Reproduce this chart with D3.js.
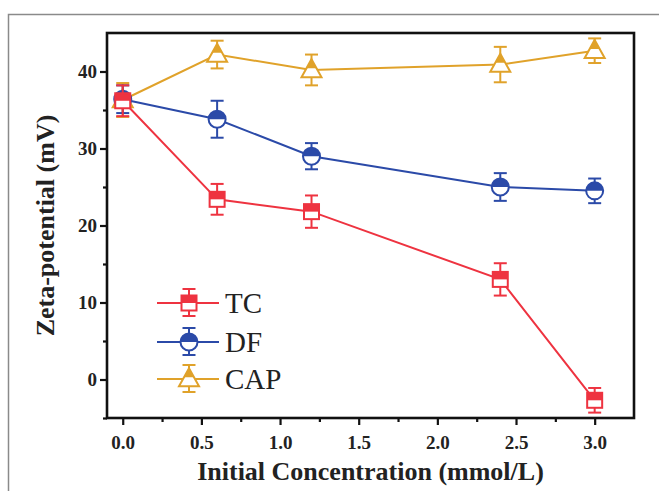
<!DOCTYPE html>
<html>
<head>
<meta charset="utf-8">
<script src="https://cdn.jsdelivr.net/npm/d3@7"></script>
<style>
  body { margin: 0; background: #fff; }
  text { font-family: "Liberation Serif", "Times New Roman", serif; }
</style>
</head>
<body>
<svg id="chart" width="659" height="491"></svg>
<script>
// data
var concentrations = [0, 0.6, 1.2, 2.4, 3.0]
var tcValues  = [36.2, 23.4, 21.8, 13.0, -2.7]
var tcErrors  = [2.0, 2.0, 2.1, 2.1, 1.6]
var dfValues  = [36.4, 33.8, 29.0, 25.0, 24.5]
var dfErrors  = [1.8, 2.4, 1.7, 1.8, 1.6]
var capValues = [36.3, 42.2, 40.2, 40.9, 42.7]
var capErrors = [2.2, 1.8, 2.0, 2.3, 1.6]
var seriesNames = ['TC', 'DF', 'CAP']
var xTicks = [0, 0.5, 1.0, 1.5, 2.0, 2.5, 3.0]
var yTicks = [0, 10, 20, 30, 40]

var colors = { TC: '#ee3340', DF: '#2b4aa8', CAP: '#e0a22a' }
var shapes = { TC: 'square', DF: 'circle', CAP: 'triangle' }
var serif = '"Liberation Serif", "Times New Roman", serif'

var svg = d3.select('#chart')

// outer grey frame of the figure
svg.append('rect')
  .attr('x', 8.5).attr('y', 14.5)
  .attr('width', 700).attr('height', 520)
  .attr('fill', 'none').attr('stroke', '#8a8a8a').attr('stroke-width', 1.5)

var plot = { left: 107, right: 634, top: 33, bottom: 418 }

var x = d3.scaleLinear().domain([-0.1, 3.25]).range([plot.left, plot.right])
var y = d3.scaleLinear().domain([-5, 45]).range([plot.bottom, plot.top])

// axes
var xAxis = d3.axisBottom(x).tickValues(xTicks).tickSize(7).tickFormat(d3.format('.1f'))
var xMinor = d3.axisBottom(x).tickValues([0.25, 0.75, 1.25, 1.75, 2.25, 2.75]).tickSize(4).tickFormat('')
var yAxis = d3.axisLeft(y).tickValues(yTicks).tickSize(7).tickFormat(d3.format('d'))
var yMinor = d3.axisLeft(y).tickValues([-5, 5, 15, 25, 35]).tickSize(4).tickFormat('')

function styleAxis (g) {
  g.select('.domain').remove()
  g.selectAll('line').attr('stroke', '#111').attr('stroke-width', 2.2)
  g.selectAll('text')
    .attr('font-family', serif)
    .attr('font-weight', 'bold')
    .attr('font-size', 19)
    .attr('fill', '#222')
}

svg.append('g').attr('transform', 'translate(0,' + plot.bottom + ')').call(xAxis).call(styleAxis)
  .selectAll('text').attr('dy', '1.1em')
svg.append('g').attr('transform', 'translate(0,' + plot.bottom + ')').call(xMinor).call(styleAxis)
svg.append('g').attr('transform', 'translate(' + plot.left + ',0)').call(yAxis).call(styleAxis)
svg.append('g').attr('transform', 'translate(' + plot.left + ',0)').call(yMinor).call(styleAxis)

// box
svg.append('rect')
  .attr('x', plot.left).attr('y', plot.top)
  .attr('width', plot.right - plot.left).attr('height', plot.bottom - plot.top)
  .attr('fill', 'none').attr('stroke', '#111').attr('stroke-width', 2.6)

// axis titles
svg.append('text')
  .attr('x', (plot.left + plot.right) / 2).attr('y', 480)
  .attr('text-anchor', 'middle')
  .attr('font-family', serif)
  .attr('font-weight', 'bold').attr('font-size', 26).attr('fill', '#222')
  .text('Initial Concentration (mmol/L)')

svg.append('text')
  .attr('transform', 'translate(54,' + ((plot.top + plot.bottom) / 2) + ') rotate(-90)')
  .attr('text-anchor', 'middle')
  .attr('font-family', serif)
  .attr('font-weight', 'bold').attr('font-size', 26).attr('fill', '#222')
  .text('Zeta-potential (mV)')

// half-filled marker drawn at (cx, cy)
function drawMarker (g, shape, color, cx, cy) {
  var m = g.append('g').attr('transform', 'translate(' + cx + ',' + cy + ')')
  if (shape === 'square') {
    var s = 7.5
    m.append('rect').attr('x', -s).attr('y', -s).attr('width', 2 * s).attr('height', 2 * s)
      .attr('fill', '#fff')
    m.append('rect').attr('x', -s).attr('y', -s).attr('width', 2 * s).attr('height', s)
      .attr('fill', color)
    m.append('rect').attr('x', -s).attr('y', -s).attr('width', 2 * s).attr('height', 2 * s)
      .attr('fill', 'none').attr('stroke', color).attr('stroke-width', 2)
  } else if (shape === 'circle') {
    var r = 8.5
    m.append('circle').attr('r', r).attr('fill', '#fff')
    m.append('path').attr('d', 'M' + (-r) + ',0 A' + r + ',' + r + ' 0 0 1 ' + r + ',0 Z')
      .attr('fill', color)
    m.append('circle').attr('r', r).attr('fill', 'none')
      .attr('stroke', color).attr('stroke-width', 2)
  } else {
    var h = 18, w = 10
    var pts = [[0, -h * 0.6], [w, h * 0.4], [-w, h * 0.4]]
    m.append('path').attr('d', d3.line()(pts) + 'Z').attr('fill', '#fff')
    var midY = -h * 0.1
    var half = w * 0.5
    m.append('path').attr('d', d3.line()([[0, -h * 0.6], [half, midY], [-half, midY]]) + 'Z')
      .attr('fill', color)
    m.append('path').attr('d', d3.line()(pts) + 'Z').attr('fill', 'none')
      .attr('stroke', color).attr('stroke-width', 2).attr('stroke-linejoin', 'miter')
  }
}

function drawErrorBar (g, color, cx, yTop, yBot) {
  var cap = 6.5
  g.append('line').attr('x1', cx).attr('x2', cx).attr('y1', yTop).attr('y2', yBot)
    .attr('stroke', color).attr('stroke-width', 2)
  g.append('line').attr('x1', cx - cap).attr('x2', cx + cap).attr('y1', yTop).attr('y2', yTop)
    .attr('stroke', color).attr('stroke-width', 2)
  g.append('line').attr('x1', cx - cap).attr('x2', cx + cap).attr('y1', yBot).attr('y2', yBot)
    .attr('stroke', color).attr('stroke-width', 2)
}

var series = [
  { name: 'CAP', values: capValues, errors: capErrors },
  { name: 'DF', values: dfValues, errors: dfErrors },
  { name: 'TC', values: tcValues, errors: tcErrors }
]

var line = d3.line()
  .x(function (d) { return x(d.x) })
  .y(function (d) { return y(d.y) })

series.forEach(function (s) {
  var color = colors[s.name]
  var pts = concentrations.map(function (c, i) { return { x: c, y: s.values[i], e: s.errors[i] } })
  var g = svg.append('g').attr('class', 'series-' + s.name)
  g.append('path').datum(pts).attr('d', line)
    .attr('fill', 'none').attr('stroke', color).attr('stroke-width', 2)
  pts.forEach(function (p) {
    drawErrorBar(g, color, x(p.x), y(p.y + p.e), y(p.y - p.e))
    drawMarker(g, shapes[s.name], color, x(p.x), y(p.y))
  })
})

// legend
var legendY = [303, 342, 379]
seriesNames.forEach(function (name, i) {
  var color = colors[name]
  var g = svg.append('g').attr('class', 'legend')
  var ly = legendY[i]
  g.append('line').attr('x1', 157).attr('x2', 219).attr('y1', ly).attr('y2', ly)
    .attr('stroke', color).attr('stroke-width', 2)
  drawErrorBar(g, color, 189, ly - 14, ly + 13)
  drawMarker(g, shapes[name], color, 189, ly)
  g.append('text').attr('x', 225).attr('y', ly + 10)
    .attr('font-family', serif)
    .attr('font-size', 29).attr('fill', '#222')
    .text(name)
})
</script>
</body>
</html>
